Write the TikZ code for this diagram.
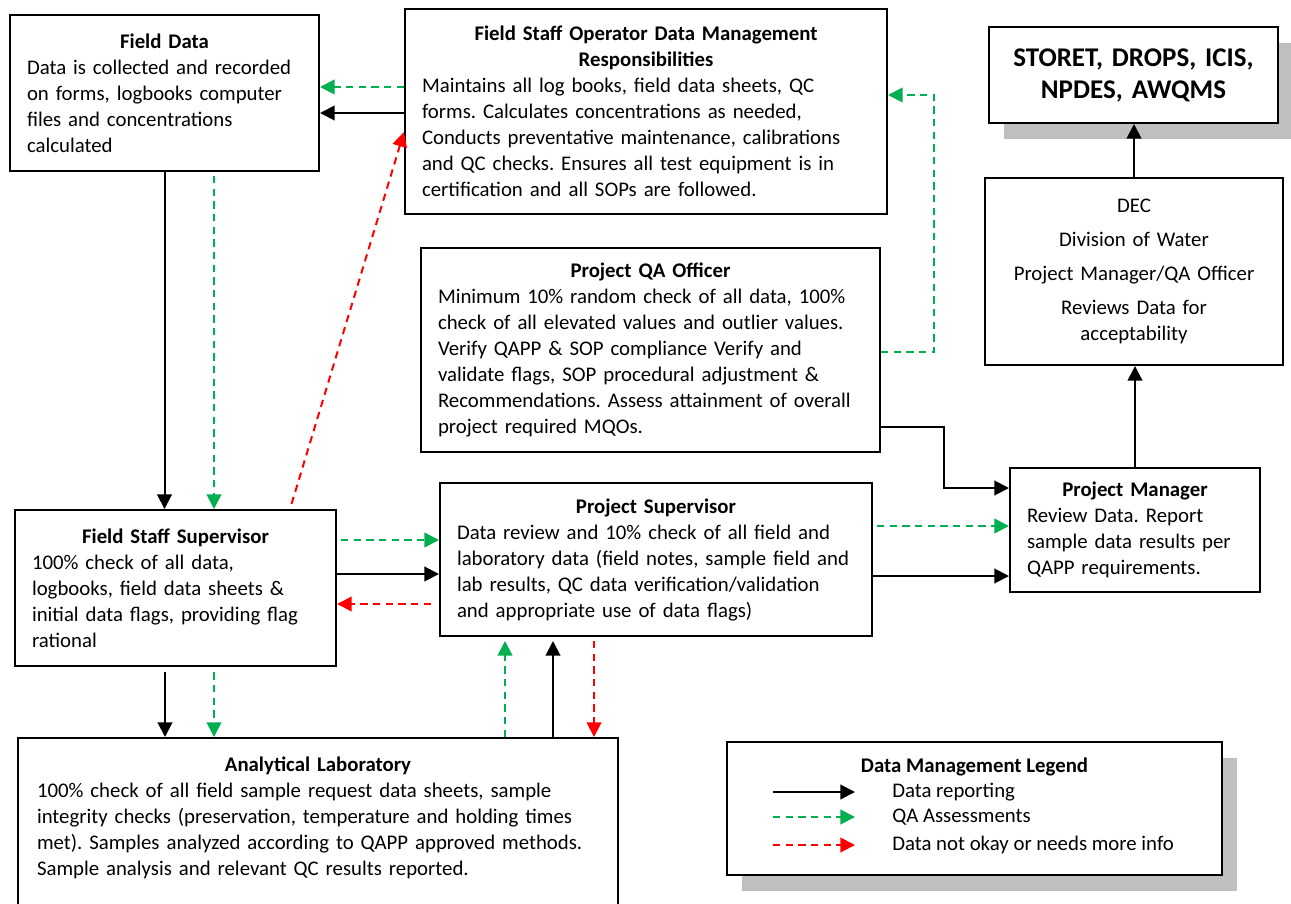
\documentclass[tikz,border=0pt]{standalone}
\usepackage{fontspec}
\setmainfont{Carlito}
\usetikzlibrary{arrows.meta,positioning,shadows}

\definecolor{qagreen}{RGB}{0,176,80}
\definecolor{flagred}{RGB}{255,0,0}
\definecolor{shadowgray}{RGB}{191,191,191}
\newlength{\pix}
\setlength{\pix}{0.75pt}
\setlength{\parindent}{0pt}
\frenchspacing

\begin{document}
\begin{tikzpicture}[
        x=0.75pt, y=-0.75pt,
        % define styles
        box/.style={
            draw, line width=1.5pt, fill=white,
            inner sep=0pt, align=left,
            font=\fontsize{15.6}{19.5}\selectfont
        },
        shadowbox/.style={
            box, align=center,
            general shadow={fill=shadowgray, shadow xshift=15\pix, shadow yshift=-16\pix}
        },
        lgtext/.style={
            anchor=west, inner sep=0pt,
            font=\fontsize{15.6}{19.5}\selectfont
        },
        report/.style={
            line width=1.5pt,
            -{Triangle[length=11pt,width=11pt]}
        },
        qa/.style={
            report, qagreen,
            dash pattern=on 5.5pt off 4pt
        },
        notok/.style={
            report, flagred,
            dash pattern=on 5.5pt off 4pt
        }
    ]
    \useasboundingbox[fill=white] (0,0) rectangle (1291,903);

    % boxes
    \node[box, minimum width=309\pix, minimum height=156\pix, text width=275\pix] (fielddata) at (164.5,93)
    {{\centering\bfseries Field Data\par}
    Data is collected and recorded\\
    on forms, logbooks computer\\
    files and concentrations\\
    calculated};

    \node[box, minimum width=482\pix, minimum height=205\pix, text width=448\pix] (operator) at (646,111.5)
    {{\centering\bfseries Field Staff Operator Data Management\\ Responsibilities\par}
    Maintains all log books, field data sheets, QC\\
    forms. Calculates concentrations as needed,\\
    Conducts preventative maintenance, calibrations\\
    and QC checks. Ensures all test equipment is in\\
    certification and all SOPs are followed.};

    \node[shadowbox, minimum width=289\pix, minimum height=96\pix, text width=269\pix,
        font=\fontsize{20.25}{24}\selectfont\bfseries] (storet) at (1133.5,75)
    {STORET, DROPS, ICIS,\\ NPDES, AWQMS};

    \node[box, align=center, minimum width=298\pix, minimum height=187\pix, text width=264\pix] (dec) at (1134,271.5)
    {DEC\\[6pt]
    Division of Water\\[6pt]
    Project Manager/QA Officer\\[6pt]
    Reviews Data for\\
    acceptability};

    \node[box, minimum width=459\pix, minimum height=204\pix, text width=425\pix] (qaofficer) at (650.5,350)
    {{\centering\bfseries Project QA Officer\par}
    Minimum 10\% random check of all data, 100\%\\
    check of all elevated values and outlier values.\\
    Verify QAPP \& SOP compliance Verify and\\
    validate flags, SOP procedural adjustment \&\\
    Recommendations. Assess attainment of overall\\
    project required MQOs.};

    \node[box, minimum width=321\pix, minimum height=156\pix, text width=287\pix] (fss) at (175.5,588)
    {{\centering\bfseries Field Staff Supervisor\par}
    100\% check of all data,\\
    logbooks, field data sheets \&\\
    initial data flags, providing flag\\
    rational};

    \node[box, minimum width=432\pix, minimum height=153\pix, text width=398\pix] (psup) at (656,559.5)
    {{\centering\bfseries Project Supervisor\par}
    Data review and 10\% check of all field and\\
    laboratory data (field notes, sample field and\\
    lab results, QC data verification/validation\\
    and appropriate use of data flags)};

    \node[box, minimum width=250\pix, minimum height=124\pix, text width=216\pix] (pm) at (1135,530)
    {{\centering\bfseries Project Manager\par}
    Review Data. Report\\
    sample data results per\\
    QAPP requirements.};

    \node[box, minimum width=600\pix, minimum height=182\pix, text width=562\pix] (lab) at (318,829)
    {{\centering\bfseries Analytical Laboratory\par}
    100\% check of all field sample request data sheets, sample\\
    integrity checks (preservation, temperature and holding times\\
    met). Samples analyzed according to QAPP approved methods.\\
    Sample analysis and relevant QC results reported.\\
    \mbox{}};

    % legend
    \node[shadowbox, minimum width=495\pix, minimum height=133\pix] (legend) at (974.5,808.5) {};
    \node[lgtext, anchor=center, font=\fontsize{15.6}{19.5}\selectfont\bfseries] (lgtitle) at (974.5,767)
    {Data Management Legend};
    \foreach \ly/\lstyle/\ltext in {792/report/Data reporting,817/qa/QA Assessments,845/notok/Data not okay or needs more info} {
        \node[lgtext] (lg-\lstyle) at (892,\ly) {\ltext};
        \draw[\lstyle] (lg-\lstyle.west -| 773,0) -- (lg-\lstyle.west -| 855,0);
    }

    % operator back to field data
    \draw[qa] (operator.west |- 0,87) -- (fielddata.east |- 0,87);
    \draw[report] (operator.west |- 0,113) -- (fielddata.east |- 0,113);

    % field data down to field staff supervisor
    \draw[report] (fielddata.south) -- (fielddata.south |- fss.north);
    \draw[qa, shorten <=3pt] (fielddata.south -| 214,0) -- (fss.north -| 214,0);
    \draw[notok, shorten <=4pt] (fss.north -| 290,0) -- (operator.west |- 0,132);

    % field staff supervisor and project supervisor
    \draw[qa, shorten <=3pt] (fss.east |- 0,540) -- (psup.west |- 0,540);
    \draw[report] (fss.east |- 0,574) -- (psup.west |- 0,574);
    \draw[notok, shorten <=6pt] (psup.west |- 0,604) -- (fss.east |- 0,604);

    % field staff supervisor down to lab
    \draw[report, shorten <=4pt] (fss.south -| 165,0) -- (lab.north -| 165,0);
    \draw[qa, shorten <=4pt] (fss.south -| 214,0) -- (lab.north -| 214,0);

    % lab and project supervisor
    \draw[qa, shorten >=3pt] (lab.north -| 505,0) -- (psup.south -| 505,0);
    \draw[report, shorten >=3pt] (lab.north -| 553,0) -- (psup.south -| 553,0);
    \draw[notok, shorten <=3pt] (psup.south -| 594,0) -- (lab.north -| 594,0);

    % project supervisor to project manager
    \draw[qa, shorten <=3pt] (psup.east |- 0,526) -- (pm.west |- 0,526);
    \draw[report] (psup.east |- 0,576) -- (pm.west |- 0,576);

    % project qa officer
    \draw[report] (qaofficer.east |- 0,427) -- ++(63,0) |- (pm.west |- 0,488);
    \draw[qa] (qaofficer.east |- 0,352) -- ++(53,0) |- (operator.east |- 0,95);

    % up to dec and storet
    \draw[report] (pm.north) -- (pm.north |- dec.south);
    \draw[report] (dec.north) -- (dec.north |- storet.south);
\end{tikzpicture}
\end{document}
